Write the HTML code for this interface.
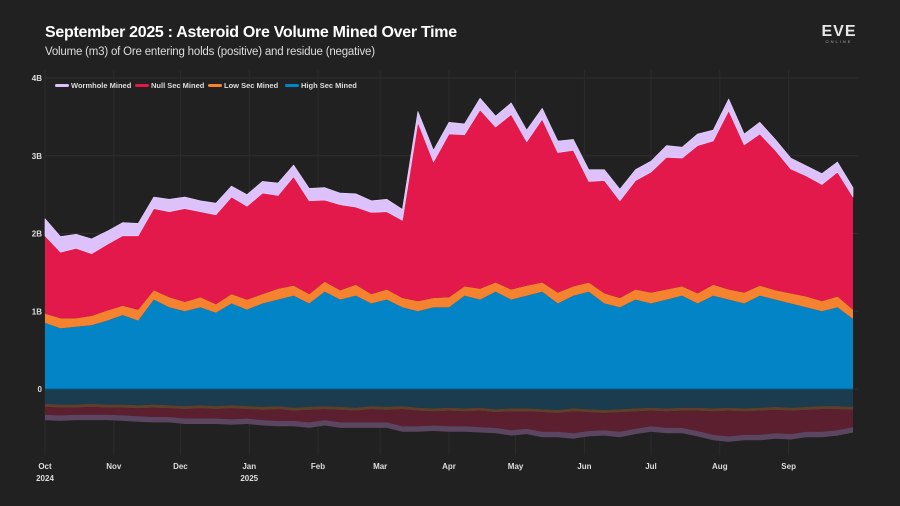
<!DOCTYPE html>
<html><head><meta charset="utf-8"><style>
body{margin:0;background:#212121;}
svg{display:block;font-family:"Liberation Sans",sans-serif;}
</style></head><body>
<svg id="chart" width="900" height="506" viewBox="0 0 900 506">
<rect width="900" height="506" fill="#212121"/>
<text x="45" y="37" fill="#fff" font-size="16" font-weight="bold" letter-spacing="-0.3">September 2025 : Asteroid Ore Volume Mined Over Time</text>
<text x="45" y="55" fill="#ddd" font-size="11.5" letter-spacing="-0.2">Volume (m3) of Ore entering holds (positive) and residue (negative)</text>
<g>
<text x="839" y="36" fill="#e8e8e8" font-size="16" font-weight="bold" text-anchor="middle" letter-spacing="1">EVE</text>
<text x="839" y="43" fill="#aaa" font-size="4" text-anchor="middle" letter-spacing="2">ONLINE</text>
</g>
<g id="grid"></g>
<g id="areas"></g>
<g id="axes"></g>
<g id="legend"></g>
</svg>
<script>
const weeks = Array.from({length:53},(_, i)=>i);
const highPos = [0.85,0.78,0.8,0.82,0.88, 0.95,0.88,1.15,1.05, 1.0,1.05,0.98,1.1,1.02, 1.1,1.15,1.2,1.1, 1.25,1.15,1.2,1.1, 1.15,1.05,1.0,1.05, 1.05,1.2,1.15,1.25,1.15, 1.2,1.25,1.1,1.2, 1.25,1.1,1.05,1.15, 1.1,1.15,1.2,1.1,1.2, 1.15,1.1,1.2,1.15, 1.1,1.05,1.0,1.05,0.9];
const lowPos = [0.12,0.13,0.11,0.12,0.13, 0.12,0.14,0.12,0.13, 0.12,0.13,0.11,0.12,0.13, 0.12,0.14,0.13,0.12, 0.13,0.12,0.14,0.12, 0.13,0.12,0.13,0.12, 0.13,0.12,0.14,0.12,0.13, 0.13,0.12,0.14,0.12, 0.12,0.13,0.12,0.13, 0.14,0.13,0.12,0.13,0.14, 0.13,0.14,0.13,0.12, 0.13,0.14,0.13,0.14,0.12];
const nullPos = [1.0,0.85,0.9,0.8,0.85, 0.9,0.95,1.05,1.1, 1.2,1.1,1.15,1.25,1.2, 1.3,1.2,1.4,1.2, 1.05,1.1,1.0,1.05, 1.0,1.0,2.3,1.75, 2.1,1.95,2.3,2.0,2.25, 1.85,2.1,1.8,1.75, 1.3,1.45,1.25,1.4, 1.55,1.7,1.65,1.9,1.85, 2.3,1.9,1.95,1.8, 1.6,1.55,1.5,1.6,1.45];
const whPos = [0.22,0.2,0.18,0.19,0.17, 0.17,0.16,0.15,0.16, 0.15,0.14,0.15,0.14,0.15, 0.15,0.16,0.15,0.16, 0.16,0.15,0.17,0.15, 0.16,0.14,0.14,0.15, 0.15,0.14,0.15,0.14,0.15, 0.15,0.14,0.15,0.14, 0.15,0.14,0.15,0.14, 0.14,0.15,0.14,0.15,0.14, 0.15,0.14,0.15,0.14, 0.14,0.13,0.14,0.13,0.12];
const highNeg = [-0.19,-0.2,-0.2,-0.19,-0.2, -0.2,-0.21,-0.2,-0.21, -0.22,-0.21,-0.22,-0.21,-0.22, -0.23,-0.22,-0.24,-0.23, -0.22,-0.23,-0.24,-0.22, -0.23,-0.22,-0.24,-0.25, -0.24,-0.25,-0.24,-0.26,-0.25, -0.25,-0.26,-0.27,-0.25, -0.26,-0.27,-0.26,-0.25, -0.24,-0.25,-0.24,-0.24,-0.25, -0.24,-0.25,-0.24,-0.23, -0.24,-0.23,-0.22,-0.22,-0.23];
const lowNeg = [-0.04,-0.04,-0.04,-0.04,-0.04, -0.04,-0.04,-0.04,-0.04, -0.04,-0.04,-0.04,-0.04,-0.04, -0.04,-0.04,-0.04,-0.04, -0.04,-0.04,-0.04,-0.04, -0.04,-0.04,-0.04,-0.04, -0.04,-0.04,-0.04,-0.04,-0.04, -0.04,-0.04,-0.04,-0.04, -0.04,-0.04,-0.04,-0.04, -0.04,-0.04,-0.04,-0.04,-0.04, -0.04,-0.04,-0.04,-0.04, -0.04,-0.04,-0.04,-0.04,-0.04];
const nullNeg = [-0.1,-0.1,-0.09,-0.1,-0.09, -0.1,-0.1,-0.12,-0.11, -0.12,-0.13,-0.12,-0.14,-0.12, -0.13,-0.15,-0.13,-0.16, -0.14,-0.16,-0.15,-0.17, -0.16,-0.22,-0.2,-0.18, -0.2,-0.19,-0.21,-0.2,-0.24, -0.22,-0.25,-0.24,-0.28, -0.24,-0.22,-0.25,-0.22, -0.2,-0.21,-0.22,-0.26,-0.3, -0.33,-0.3,-0.31,-0.3, -0.3,-0.28,-0.29,-0.27,-0.22];
const whNeg = [-0.07,-0.07,-0.07,-0.07,-0.07, -0.07,-0.07,-0.07,-0.07, -0.07,-0.07,-0.07,-0.07,-0.07, -0.07,-0.07,-0.07,-0.07, -0.07,-0.07,-0.07,-0.07, -0.07,-0.07,-0.07,-0.07, -0.07,-0.07,-0.07,-0.07,-0.07, -0.07,-0.07,-0.07,-0.07, -0.07,-0.07,-0.07,-0.07, -0.07,-0.07,-0.07,-0.07,-0.07, -0.07,-0.07,-0.07,-0.07, -0.07,-0.07,-0.07,-0.07,-0.07];
const yTicks = [0,1,2,3,4];
const yTickLabels = ["0","1B","2B","3B","4B"];
const monthDays = [0,31,61,92,123,151,182,212,243,273,304,335];
const monthLabels = ["Oct","Nov","Dec","Jan","Feb","Mar","Apr","May","Jun","Jul","Aug","Sep"];
const yearLabels = ["2024","","","2025","","","","","","","",""];

const NS="http://www.w3.org/2000/svg";
const X0=45, X1=853, Y0=389, PX=77.75;
const xDay=d=>X0+d*(X1-X0)/364;
const xWeek=w=>xDay(w*7);
const y=v=>Y0-v*PX;
function mk(tag,attrs,parent){const e=document.createElementNS(NS,tag);for(const k in attrs)e.setAttribute(k,attrs[k]);parent.appendChild(e);return e;}
const grid=document.getElementById('grid'),areas=document.getElementById('areas'),axes=document.getElementById('axes'),legend=document.getElementById('legend');

yTicks.forEach((t,i)=>{
  const l=mk('line',{x1:X0,x2:X1+5,y1:y(t),y2:y(t),stroke:'#2f2f2f','stroke-width':1},grid);
  
  
  const tx=mk('text',{x:42,y:y(t)+3,fill:'#ddd','font-size':8,'font-weight':'bold','text-anchor':'end'},axes);
  tx.textContent=yTickLabels[i];
  
  
});
monthDays.forEach((d,i)=>{
  const l=mk('line',{x1:xDay(d),x2:xDay(d),y1:70,y2:455,stroke:'#2b2b2b','stroke-width':1},grid);
  
  
  const tx=mk('text',{x:xDay(d),y:469,fill:'#ddd','font-size':8,'font-weight':'bold','text-anchor':'middle'},axes);
  tx.textContent=monthLabels[i];
  
  
  if(yearLabels[i]){
    const ty=mk('text',{x:xDay(d),y:481,fill:'#ddd','font-size':8,'font-weight':'bold','text-anchor':'middle'},axes);
    ty.textContent=yearLabels[i];
    
    
  }
});

function stack(seriesList){
  let base=weeks.map(()=>0);const out=[];
  seriesList.forEach(s=>{const top=base.map((b,i)=>b+s[i]);out.push([base,top]);base=top;});
  return out;
}
function areaPath(lo,hi){
  let d='M'+weeks.map(i=>xWeek(i).toFixed(1)+','+y(hi[i]).toFixed(1)).join('L');
  d+='L'+weeks.slice().reverse().map(i=>xWeek(i).toFixed(1)+','+y(lo[i]).toFixed(1)).join('L')+'Z';
  return d;
}
const posNames=['high-sec-area','low-sec-area','null-sec-area','wormhole-area'];
const posColors=['#0284c7','#f5822f','#e3194b','#dcc1fb'];
const negColors=['#1b3b4f','#5e3f2c','#5b1f30','#5b4560'];
stack([highPos,lowPos,nullPos,whPos]).forEach(([lo,hi],k)=>{
  const p=mk('path',{d:areaPath(lo,hi),fill:posColors[k],stroke:k==3?'#e8d8ff':'none','stroke-width':0.6,'stroke-linejoin':'round'},areas);
  
  
});
stack([highNeg,lowNeg,nullNeg,whNeg]).forEach(([lo,hi],k)=>{
  const p=mk('path',{d:areaPath(lo,hi),fill:negColors[k],stroke:'none'},areas);
  
  
});
const zl=mk('line',{x1:X0,x2:X1,y1:Y0,y2:Y0,stroke:'#0a5a85','stroke-width':1},areas);



const legNames=['Wormhole Mined','Null Sec Mined','Low Sec Mined','High Sec Mined'];
const legColors=['#dcc1fb','#e3194b','#f5822f','#0284c7'];
const legX=[55,135,208,285];
legNames.forEach((n,i)=>{
  const g=mk('g',{},legend);
  
  
  mk('rect',{x:legX[i],y:84,width:14,height:3,rx:1.5,fill:legColors[i]},g);
  const t=mk('text',{x:legX[i]+16,y:88,fill:'#ddd','font-size':7.5,'font-weight':'bold'},g);
  t.textContent=n;
});
</script>
</body></html>
